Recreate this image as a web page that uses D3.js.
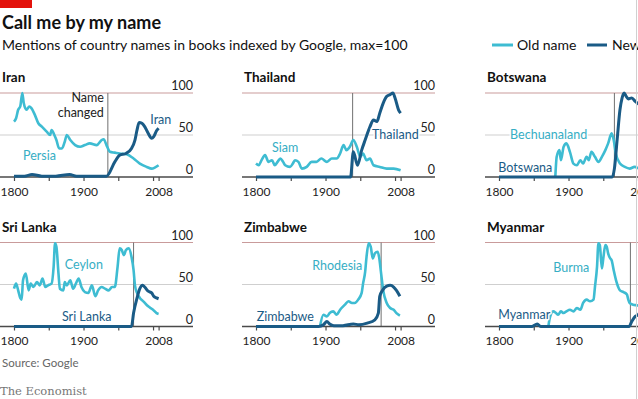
<!DOCTYPE html>
<html lang="en">
<head>
<meta charset="UTF-8">
<style>
  body { margin: 0; background: #fff; }
  svg { display: block; font-family: Lato, "Noto Sans", sans-serif; }
  .grid line { stroke: #cfcfcf; stroke-width: 1; }
  .grid line.top { stroke: #c99b9b; }
  .base { stroke: #4a4a4a; stroke-width: 1.5; }
  .xAxis path { display: none; }
  .xAxis line { stroke: #4a4a4a; stroke-width: 1.2; }
  .xAxis text { font-size: 12px; fill: #222; font-family: Lato, sans-serif; }
  .ylab { font-size: 12.5px; fill: #222; text-anchor: end; }
  .ptitle { font-size: 13.5px; font-weight: bold; fill: #111; }
  .change { stroke: #707070; stroke-width: 1; }
  .oldLine { fill: none; stroke: #3ebcd2; stroke-width: 2.6; stroke-linejoin: round; }
  .newLine { fill: none; stroke: #1a5b86; stroke-width: 3; stroke-linejoin: round; }
  .lab { font-size: 12.5px; paint-order: stroke; stroke: #fff; stroke-width: 3px; stroke-linejoin: round; }
</style>
</head>
<body>
<svg id="chart" width="638" height="399"></svg>
<script src="https://cdn.jsdelivr.net/npm/d3@7/dist/d3.min.js"></script>
<script>
// panels, in reading order
var countries = ["Iran", "Thailand", "Botswana", "Sri Lanka", "Zimbabwe", "Myanmar"];
var oldNames = ["Persia", "Siam", "Bechuanaland", "Ceylon", "Rhodesia", "Burma"];
var changeYears = [1935, 1939, 1966, 1972, 1980, 1989];

var xTicks = [1800, 1850, 1900, 1950, 2000, 2008];
var xTickLabels = [1800, 1900, 2008];
var yTicks = [0, 50, 100];

// [year, mentions]
var persia = [[1800,66],[1803,70],[1806,80],[1809,84],[1812,100],[1814,88],[1818,80],[1822,84],[1825,82],[1830,74],[1835,64],[1840,60],[1847,54],[1852,50],[1854,56],[1858,50],[1861,44],[1865,34],[1869,34],[1873,42],[1876,50],[1881,44],[1888,38],[1895,36],[1902,38],[1909,40],[1919,38],[1926,44],[1929,45],[1933,38],[1938,30],[1945,29],[1952,28],[1962,27],[1972,22],[1981,16],[1991,12],[1998,10],[2008,14]];
var iran = [[1800,1],[1815,1],[1826,3],[1840,1],[1860,1],[1880,3],[1890,1],[1920,1],[1933,1],[1945,18],[1952,26],[1961,28],[1969,34],[1974,44],[1977,56],[1980,65],[1984,64],[1988,60],[1993,52],[1998,46],[2001,48],[2005,55],[2008,58]];

var siam = [[1800,16],[1804,14],[1808,20],[1813,26],[1818,18],[1823,20],[1827,14],[1831,18],[1835,22],[1839,18],[1842,14],[1849,12],[1853,16],[1856,20],[1861,18],[1866,10],[1873,12],[1880,18],[1887,18],[1894,22],[1902,18],[1909,22],[1916,22],[1921,28],[1926,38],[1930,32],[1935,36],[1940,44],[1945,36],[1950,24],[1954,28],[1959,20],[1964,22],[1969,14],[1978,12],[1988,10],[1998,10],[2008,8]];
var thailand = [[1800,0],[1900,0],[1936,0],[1940,30],[1946,14],[1952,32],[1957,44],[1964,60],[1969,68],[1974,66],[1978,76],[1983,88],[1988,96],[1993,98],[1997,100],[2000,94],[2005,80],[2008,76]];

var bechuanaland = [[1881,0],[1883,24],[1887,32],[1889,20],[1893,36],[1897,40],[1902,30],[1907,16],[1912,14],[1917,20],[1921,16],[1926,24],[1929,20],[1933,30],[1938,24],[1943,18],[1948,24],[1953,32],[1957,40],[1962,52],[1965,44],[1968,28],[1974,16],[1981,12],[1988,10],[1995,12],[2002,10],[2008,9]];
var botswana = [[1800,0],[1900,0],[1963,0],[1966,10],[1970,45],[1974,80],[1977,94],[1980,100],[1983,96],[1986,93],[1991,94],[1996,90],[2002,86],[2008,82]];

var ceylon = [[1800,45],[1803,51],[1806,43],[1809,34],[1811,32],[1813,55],[1817,63],[1821,43],[1824,51],[1828,47],[1833,53],[1837,49],[1841,57],[1845,47],[1849,49],[1854,51],[1857,71],[1859,99],[1861,95],[1864,63],[1866,45],[1871,43],[1873,53],[1876,49],[1881,55],[1885,45],[1889,51],[1893,57],[1897,47],[1902,41],[1907,40],[1912,49],[1917,36],[1921,43],[1926,47],[1931,45],[1936,43],[1941,47],[1945,47],[1949,71],[1952,93],[1955,91],[1958,85],[1961,91],[1965,93],[1969,83],[1972,67],[1974,49],[1977,40],[1981,34],[1986,30],[1993,24],[2000,20],[2005,16],[2008,15]];
var sriLanka = [[1800,0],[1900,0],[1969,0],[1972,16],[1977,34],[1981,45],[1985,49],[1988,47],[1993,42],[1998,40],[2001,36],[2005,34],[2008,33]];

var rhodesia = [[1892,0],[1897,14],[1902,12],[1906,16],[1911,18],[1916,14],[1921,20],[1928,26],[1933,30],[1938,28],[1942,28],[1947,32],[1952,40],[1954,51],[1957,65],[1959,83],[1962,99],[1965,95],[1968,81],[1971,87],[1975,89],[1977,83],[1980,63],[1983,43],[1988,28],[1993,22],[1998,20],[2002,16],[2007,13]];
var zimbabwe = [[1800,0],[1890,0],[1897,2],[1902,6],[1906,3],[1912,1],[1925,1],[1940,3],[1948,2],[1960,4],[1971,8],[1976,16],[1978,36],[1982,43],[1988,48],[1993,49],[1998,47],[2002,43],[2007,36]];

var burma = [[1871,0],[1873,10],[1878,18],[1882,16],[1885,14],[1889,18],[1893,16],[1897,18],[1902,20],[1907,18],[1912,22],[1917,20],[1921,28],[1926,32],[1931,30],[1936,32],[1938,47],[1941,71],[1943,99],[1945,97],[1948,69],[1950,81],[1953,97],[1955,95],[1957,87],[1960,81],[1962,79],[1965,67],[1969,53],[1974,43],[1979,41],[1984,38],[1986,32],[1988,28],[1993,26],[2000,25],[2008,22]];
var myanmar = [[1800,0],[1847,0],[1855,3],[1860,0],[1900,0],[1987,0],[1991,6],[1996,12],[2000,14],[2004,18],[2008,20]];

var oldSeries = [persia, siam, bechuanaland, ceylon, rhodesia, burma];
var newSeries = [iran, thailand, botswana, sriLanka, zimbabwe, myanmar];

// where the in-chart names sit, in [year, value]
var oldLabelAt = [[1813,26],[1823,35],[1816,50],[1873,74],[1881,72],[1878,70]];
var newLabelAt = [[1996,68],[1967,50],[1799,11],[1869,11.5],[1801,11.5],[1799,14]];

var colX = [0, 242, 485],
    rowY = [93, 242.5],
    panelW = 193,
    plotH = 84,
    pageW = 638;

var svg = d3.select("#chart");

// header
svg.append("rect").attr("x", 0).attr("y", 0).attr("width", 32).attr("height", 8).attr("fill", "#e3120b");
svg.append("text").attr("x", 2).attr("y", 29)
    .style("font-size", "18px").style("font-weight", "bold").attr("fill", "#111")
    .text("Call me by my name");
svg.append("text").attr("x", 2).attr("y", 50)
    .style("font-size", "14px").attr("fill", "#111")
    .text("Mentions of country names in books indexed by Google, max=100");

var legend = svg.append("g").attr("transform", "translate(492,45)");
legend.append("line").attr("x1", 0).attr("x2", 21).attr("stroke", "#3ebcd2").attr("stroke-width", 3);
legend.append("text").attr("x", 25).attr("y", 5).style("font-size", "14px").attr("fill", "#111").text("Old name");
legend.append("line").attr("x1", 95).attr("x2", 115).attr("stroke", "#1a5b86").attr("stroke-width", 3);
legend.append("text").attr("x", 120).attr("y", 5).style("font-size", "14px").attr("fill", "#111").text("New");

var x = d3.scaleLinear().domain([1800, 2008]).range([14, 158.6]);
var y = d3.scaleLinear().domain([0, 100]).range([plotH, 0]);

var line = d3.line()
    .x(function (d) { return x(d[0]); })
    .y(function (d) { return y(d[1]); })
    .curve(d3.curveMonotoneX);

countries.forEach(function (name, i) {
    var left = colX[i % 3];
    var g = svg.append("g")
        .attr("transform", "translate(" + left + "," + rowY[Math.floor(i / 3)] + ")");

    g.append("text").attr("class", "ptitle").attr("x", 2).attr("y", -11).text(name);

    var grid = g.append("g").attr("class", "grid");
    grid.selectAll("line").data(yTicks.filter(function (t) { return t > 0; }))
        .enter().append("line")
        .attr("class", function (t) { return t === 100 ? "top" : null; })
        .attr("x1", 0).attr("x2", panelW)
        .attr("y1", function (t) { return y(t); })
        .attr("y2", function (t) { return y(t); });

    // value labels sit at the panel's right end; skip the ones past the page edge
    if (left + panelW - 20 < pageW) {
        g.selectAll(".ylab").data(yTicks).enter().append("text")
            .attr("class", "ylab")
            .attr("x", panelW)
            .attr("y", function (t) { return y(t) - 3; })
            .text(function (t) { return t; });
    }

    g.append("line").attr("class", "change")
        .attr("x1", x(changeYears[i])).attr("x2", x(changeYears[i]))
        .attr("y1", y(100)).attr("y2", y(0));

    var xAxis = d3.axisBottom(x)
        .tickValues(xTicks)
        .tickSize(4)
        .tickPadding(6)
        .tickFormat(function (d) {
            return xTickLabels.indexOf(d) >= 0 && left + x(d) - 13 < pageW ? d : "";
        });
    g.append("g").attr("class", "xAxis")
        .attr("transform", "translate(0," + plotH + ")")
        .call(xAxis);
    g.append("line").attr("class", "base")
        .attr("x1", 0).attr("x2", panelW).attr("y1", plotH).attr("y2", plotH);

    if (i === 0) {
        g.append("text").attr("text-anchor", "end").style("font-size", "12.5px").attr("fill", "#222")
            .attr("y", 9)
            .selectAll("tspan").data(["Name", "changed"]).enter().append("tspan")
            .attr("x", x(changeYears[i]) - 4)
            .attr("dy", function (d, k) { return k ? 15 : 0; })
            .text(function (d) { return d; });
    }

    g.append("path").attr("class", "oldLine").attr("d", line(oldSeries[i]));
    g.append("path").attr("class", "newLine").attr("d", line(newSeries[i]));

    g.append("text").attr("class", "lab")
        .attr("x", x(oldLabelAt[i][0])).attr("y", y(oldLabelAt[i][1]))
        .attr("dy", "0.35em").attr("fill", "#36aec4")
        .text(oldNames[i]);
    g.append("text").attr("class", "lab")
        .attr("x", x(newLabelAt[i][0])).attr("y", y(newLabelAt[i][1]))
        .attr("dy", "0.35em").attr("fill", "#1a5b86")
        .text(name);
});

svg.append("text").attr("x", 2).attr("y", 367).style("font-size", "11.5px").attr("fill", "#666")
    .text("Source: Google");
svg.append("text").attr("x", 0).attr("y", 395)
    .style("font-family", "'DejaVu Serif', serif").style("font-size", "11.5px").attr("fill", "#777")
    .text("The Economist");
svg.append("line").attr("x1", 636.5).attr("x2", 636.5).attr("y1", 0).attr("y2", 399)
    .attr("stroke", "#d0d0d0");
</script>
</body>
</html>
